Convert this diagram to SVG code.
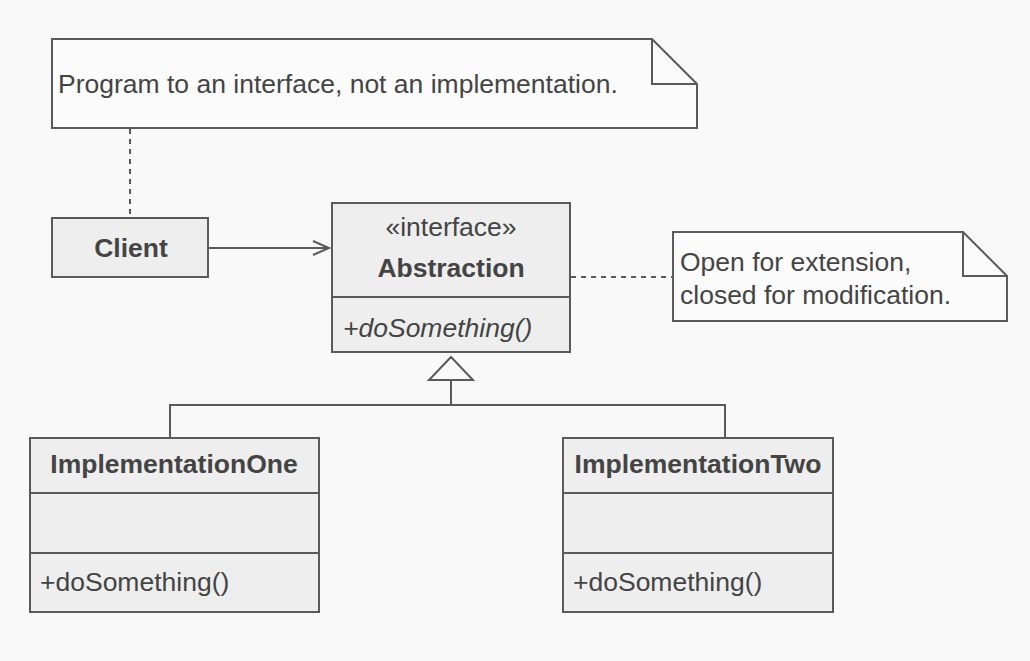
<svg xmlns="http://www.w3.org/2000/svg" width="1030" height="661" viewBox="0 0 1030 661">
<defs>
<style>
.bg{fill:#f9f9f9}
.box{fill:#eeeeee;stroke:#5a5a5a;stroke-width:2}
.note{fill:#fbfbfb;stroke:#5a5a5a;stroke-width:2}
.ln{fill:none;stroke:#5a5a5a;stroke-width:2}
.dash{fill:none;stroke:#5a5a5a;stroke-width:2;stroke-dasharray:5 5}
.t{font-family:"Liberation Sans",Arial,sans-serif;fill:#444;font-size:26.5px}
.b{font-weight:bold;text-anchor:middle}
.c{text-anchor:middle}
.i{font-style:italic}
</style>
<marker id="open" markerWidth="20" markerHeight="20" refX="17" refY="8" orient="auto" markerUnits="userSpaceOnUse">
<path d="M1,1 L17,8 L1,15" fill="none" stroke="#5a5a5a" stroke-width="2"/>
</marker>
</defs>
<rect class="bg" x="0" y="0" width="1030" height="661"/>
<g id="connectors">
<line class="dash" x1="130" y1="129" x2="130" y2="218"/>
<line class="ln" x1="208" y1="248" x2="329" y2="248" marker-end="url(#open)"/>
<line class="dash" x1="571" y1="277" x2="673" y2="277"/>
<path class="ln" d="M170,438 V405 H725 V438 M451,405 V380"/>
<polygon points="451,357 429,380 473,380" fill="#f9f9f9" stroke="#5a5a5a" stroke-width="2"/>
</g>
<g id="note1">
<path class="note" d="M52,39 H652 L697,84 V128 H52 Z"/>
<path class="ln" d="M652,39 V84 H697"/>
<text class="t" x="58" y="93">Program to an interface, not an implementation.</text>
</g>
<g id="client">
<rect class="box" x="52" y="218" width="156" height="59"/>
<text class="t b" x="131" y="257">Client</text>
</g>
<g id="abstraction">
<rect class="box" x="332" y="203" width="238" height="149"/>
<line class="ln" x1="332" y1="297" x2="570" y2="297"/>
<text class="t c" x="451" y="236">«interface»</text>
<text class="t b" x="451" y="277">Abstraction</text>
<text class="t i" x="343" y="337">+doSomething()</text>
</g>
<g id="note2">
<path class="note" d="M673,232 H963 L1007,276 V321 H673 Z"/>
<path class="ln" d="M963,232 V276 H1007"/>
<text class="t" x="680" y="271">Open for extension,</text>
<text class="t" x="680" y="304">closed for modification.</text>
</g>
<g id="implOne">
<rect class="box" x="30" y="438" width="289" height="174"/>
<line class="ln" x1="30" y1="493" x2="319" y2="493"/>
<line class="ln" x1="30" y1="553" x2="319" y2="553"/>
<text class="t b" x="174" y="473">ImplementationOne</text>
<text class="t" x="40" y="591">+doSomething()</text>
</g>
<g id="implTwo">
<rect class="box" x="563" y="438" width="270" height="174"/>
<line class="ln" x1="563" y1="493" x2="833" y2="493"/>
<line class="ln" x1="563" y1="553" x2="833" y2="553"/>
<text class="t b" x="698" y="473">ImplementationTwo</text>
<text class="t" x="573" y="591">+doSomething()</text>
</g>
</svg>
